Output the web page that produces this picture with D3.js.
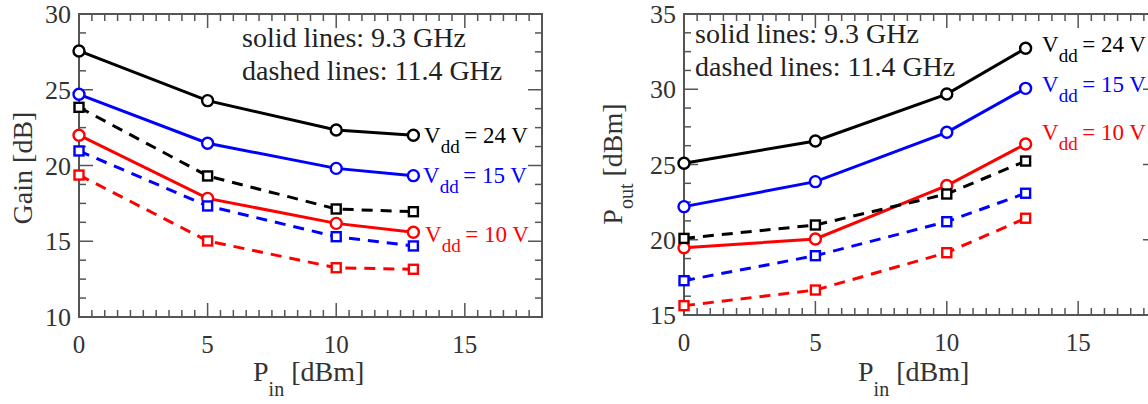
<!DOCTYPE html>
<html>
<head>
<meta charset="utf-8">
<script src="https://cdn.jsdelivr.net/npm/d3@7"></script>
<style>
  body { margin: 0; background: #fff; }
  text { font-family: "Liberation Serif", "Times New Roman", serif; }
</style>
</head>
<body>
<svg id="chart" width="1148" height="404"></svg>
<script>
// input power points (dBm)
const pin = [0, 5, 10, 13];

// Gain [dB]
const gain24_93 = [27.56, 24.28, 22.34, 22.0];
const gain15_93 = [24.7, 21.47, 19.81, 19.33];
const gain10_93 = [22.0, 17.83, 16.18, 15.59];
const gain24_114 = [23.84, 19.31, 17.13, 16.95];
const gain15_114 = [20.96, 17.33, 15.3, 14.69];
const gain10_114 = [19.37, 15.02, 13.25, 13.15];

// Pout [dBm]
const pout24_93 = [25.08, 26.56, 29.68, 32.72];
const pout15_93 = [22.2, 23.86, 27.14, 30.06];
const pout10_93 = [19.47, 20.05, 23.6, 26.36];
const pout24_114 = [20.09, 20.98, 23.04, 25.23];
const pout15_114 = [17.28, 18.94, 21.2, 23.09];
const pout10_114 = [15.62, 16.66, 19.14, 21.43];

const xTicks = [0, 5, 10, 15];
const gainTicks = [10, 15, 20, 25, 30];
const poutTicks = [15, 20, 25, 30, 35];

const colors = { v24: "#000000", v15: "#0000ff", v10: "#ff0000" };

const svg = d3.select("#chart");

function drawPanel(p) {
  const x = d3.scaleLinear().domain([0, 18]).range(p.xRange);
  const y = d3.scaleLinear().domain(p.yDomain).range(p.yRange);
  const g = svg.append("g");
  const frame = "#555";

  // frame
  g.append("rect")
    .attr("x", x(0)).attr("y", y(p.yDomain[1]))
    .attr("width", x(18) - x(0)).attr("height", y(p.yDomain[0]) - y(p.yDomain[1]))
    .attr("fill", "none").attr("stroke", frame).attr("stroke-width", 2);

  // ticks, all pointing inward
  const xMinor = d3.range(0, 18.01, 0.5);
  const yMinor = d3.range(p.yDomain[0], p.yDomain[1] + 0.01, 1.25);
  xMinor.forEach(v => {
    const len = xTicks.includes(v) ? 14 : 7;
    g.append("line").attr("x1", x(v)).attr("x2", x(v))
      .attr("y1", y(p.yDomain[0])).attr("y2", y(p.yDomain[0]) - len)
      .attr("stroke", frame).attr("stroke-width", 1.5);
    g.append("line").attr("x1", x(v)).attr("x2", x(v))
      .attr("y1", y(p.yDomain[1])).attr("y2", y(p.yDomain[1]) + len)
      .attr("stroke", frame).attr("stroke-width", 1.5);
  });
  yMinor.forEach(v => {
    const len = p.yTicks.includes(v) ? 14 : 7;
    g.append("line").attr("x1", x(0)).attr("x2", x(0) + len)
      .attr("y1", y(v)).attr("y2", y(v))
      .attr("stroke", frame).attr("stroke-width", 1.5);
    g.append("line").attr("x1", x(18)).attr("x2", x(18) - len)
      .attr("y1", y(v)).attr("y2", y(v))
      .attr("stroke", frame).attr("stroke-width", 1.5);
  });

  // tick labels
  g.selectAll(".xl").data(xTicks).enter().append("text")
    .attr("x", d => x(d)).attr("y", y(p.yDomain[0]) + 36)
    .attr("text-anchor", "middle").attr("font-size", 25).attr("fill", "#333")
    .text(d => d);
  g.selectAll(".yl").data(p.yTicks).enter().append("text")
    .attr("x", x(0) - 8).attr("y", d => y(d) + 9)
    .attr("text-anchor", "end").attr("font-size", 26).attr("fill", "#333")
    .text(d => d);

  // x axis title
  const xt = g.append("text")
    .attr("x", x(0) + 174).attr("y", 381)
    .attr("font-size", 28).attr("fill", "#333");
  xt.append("tspan").text("P");
  xt.append("tspan").attr("dy", 15).attr("font-size", 20).text("in");
  xt.append("tspan").attr("dy", -15).text(" [dBm]");

  // y axis title
  const yt = g.append("text")
    .attr("transform", `translate(${p.yTitleX},${p.yTitleY}) rotate(-90)`)
    .attr("text-anchor", "middle").attr("font-size", 28).attr("fill", "#333");
  yt.append("tspan").text(p.yTitle);
  if (p.yTitleSub) {
    yt.append("tspan").attr("dy", 11).attr("font-size", 20).text(p.yTitleSub);
    yt.append("tspan").attr("dy", -11).text(" [dBm]");
  }

  // series
  const line = d3.line().x((d, i) => x(pin[i])).y(d => y(d));
  p.series.forEach(s => {
    g.append("path").datum(s.values)
      .attr("d", line).attr("fill", "none")
      .attr("stroke", s.color).attr("stroke-width", 3)
      .attr("stroke-dasharray", s.dashed ? "11,8" : null);
    if (s.dashed) {
      g.selectAll(null).data(s.values).enter().append("rect")
        .attr("x", (d, i) => x(pin[i]) - 4.5).attr("y", d => y(d) - 4.5)
        .attr("width", 9).attr("height", 9)
        .attr("fill", "#fff").attr("stroke", s.color).attr("stroke-width", 2.4);
    } else {
      g.selectAll(null).data(s.values).enter().append("circle")
        .attr("cx", (d, i) => x(pin[i])).attr("cy", d => y(d)).attr("r", 5.5)
        .attr("fill", "#fff").attr("stroke", s.color).attr("stroke-width", 2.4);
    }
  });

  // annotation
  g.append("text").attr("x", p.noteX).attr("y", p.noteY)
    .attr("font-size", 28).attr("fill", "#222").text("solid lines: 9.3 GHz");
  g.append("text").attr("x", p.noteX).attr("y", p.noteY + 33)
    .attr("font-size", 28).attr("fill", "#222").text("dashed lines: 11.4 GHz");

  // Vdd labels
  p.labels.forEach(l => {
    const t = g.append("text").attr("x", l.x).attr("y", l.y)
      .attr("font-size", 23).attr("fill", l.color);
    t.append("tspan").text("V");
    t.append("tspan").attr("dy", 10).attr("font-size", 19).text("dd");
    t.append("tspan").attr("dy", -10).text("\u2009= " + l.text);
  });
}

drawPanel({
  xRange: [79, 542], yDomain: [10, 30], yRange: [317, 14], yTicks: gainTicks,
  yTitle: "Gain [dB]", yTitleX: 32, yTitleY: 168,
  noteX: 242, noteY: 47,
  series: [
    { values: gain24_93, color: colors.v24 },
    { values: gain15_93, color: colors.v15 },
    { values: gain10_93, color: colors.v10 },
    { values: gain24_114, color: colors.v24, dashed: true },
    { values: gain15_114, color: colors.v15, dashed: true },
    { values: gain10_114, color: colors.v10, dashed: true }
  ],
  labels: [
    { x: 424, y: 143, text: "24 V", color: colors.v24 },
    { x: 423, y: 183, text: "15 V", color: colors.v15 },
    { x: 425, y: 242, text: "10 V", color: colors.v10 }
  ]
});

drawPanel({
  xRange: [684, 1157], yDomain: [15, 35], yRange: [315, 14], yTicks: poutTicks,
  yTitle: "P", yTitleSub: "out", yTitleX: 622, yTitleY: 164,
  noteX: 695, noteY: 43,
  series: [
    { values: pout24_93, color: colors.v24 },
    { values: pout15_93, color: colors.v15 },
    { values: pout10_93, color: colors.v10 },
    { values: pout24_114, color: colors.v24, dashed: true },
    { values: pout15_114, color: colors.v15, dashed: true },
    { values: pout10_114, color: colors.v10, dashed: true }
  ],
  labels: [
    { x: 1042, y: 52, text: "24 V", color: colors.v24 },
    { x: 1042, y: 92, text: "15 V", color: colors.v15 },
    { x: 1042, y: 140, text: "10 V", color: colors.v10 }
  ]
});
</script>
</body>
</html>
